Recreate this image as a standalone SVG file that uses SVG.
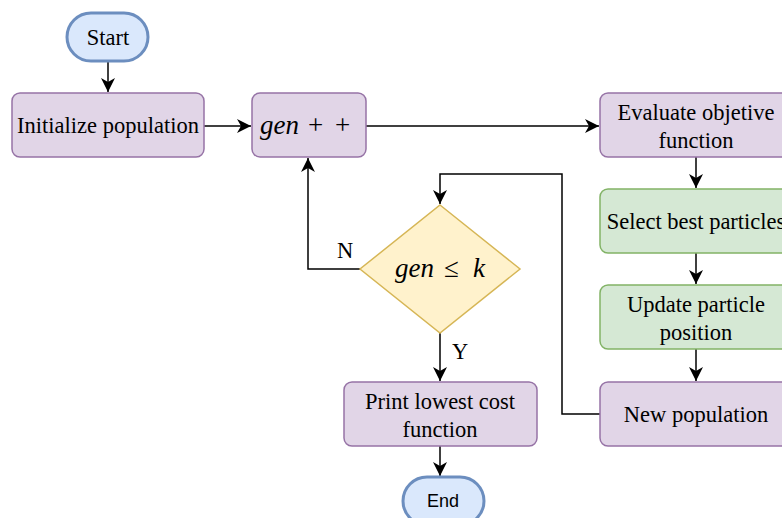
<svg xmlns="http://www.w3.org/2000/svg" width="782" height="518" viewBox="0 0 782 518">
<style>
.t{font-family:"Liberation Serif","Times New Roman",serif;font-size:22.5px;fill:#000;text-anchor:middle}
.s{font-family:"Liberation Sans",Arial,sans-serif;font-size:18px;fill:#000;text-anchor:middle}
.m{font-family:"Liberation Serif","Times New Roman",serif;font-size:27px;fill:#000}
.p{fill:#e1d5e7;stroke:#9673a6;stroke-width:1.5}
.g{fill:#d5e8d4;stroke:#82b366;stroke-width:1.5}
.b{fill:#dae8fc;stroke:#6c8ebf;stroke-width:3}
.y{fill:#fff2cc;stroke:#d6b656;stroke-width:1.5}
.c{fill:none;stroke:#000;stroke-width:1.5;marker-end:url(#a)}
</style>
<defs>
<marker id="a" markerUnits="userSpaceOnUse" viewBox="-15 -8 16 16" markerWidth="16" markerHeight="16" refX="0" refY="0" orient="auto">
<path d="M0,0 L-14,-7 L-10,0 L-14,7 Z" fill="#000"/>
</marker>
</defs>
<g id="connectors">
<path class="c" d="M108,62 L108,92"/>
<path class="c" d="M204,126 L251,126"/>
<path class="c" d="M366,126 L599,126"/>
<path class="c" d="M696,157 L696,188"/>
<path class="c" d="M696,253 L696,284"/>
<path class="c" d="M696,349 L696,381"/>
<path class="c" d="M600,414 L562,414 L562,174 L440,174 L440,204"/>
<path class="c" d="M360,269 L308,269 L308,158"/>
<path class="c" d="M440,333 L440,381"/>
<path class="c" d="M440,446 L440,476"/>
<text class="t" x="345" y="258">N</text>
<text class="t" x="460" y="359">Y</text>
</g>
<g id="start">
<rect class="b" x="67" y="13" width="81" height="48" rx="24"/>
<text class="t" x="108" y="45">Start</text>
</g>
<g id="init">
<rect class="p" x="12" y="93" width="192" height="64" rx="8"/>
<text class="t" x="108" y="133">Initialize population</text>
</g>
<g id="genpp">
<rect class="p" x="252" y="93" width="114" height="64" rx="8"/>
<text class="m" y="134"><tspan x="260" font-style="italic">gen</tspan><tspan x="308">+</tspan><tspan x="335">+</tspan></text>
</g>
<g id="evaluate">
<rect class="p" x="600" y="93" width="192" height="64" rx="8"/>
<text class="t" x="696" y="120">Evaluate objetive</text>
<text class="t" x="696" y="148">function</text>
</g>
<g id="select">
<rect class="g" x="600" y="189" width="192" height="64" rx="8"/>
<text class="t" x="696" y="229">Select best particles</text>
</g>
<g id="update">
<rect class="g" x="600" y="285" width="192" height="64" rx="8"/>
<text class="t" x="696" y="312">Update particle</text>
<text class="t" x="696" y="340">position</text>
</g>
<g id="newpop">
<rect class="p" x="600" y="382" width="192" height="64" rx="8"/>
<text class="t" x="696" y="422">New population</text>
</g>
<g id="decision">
<path class="y" d="M440,205 L520,269 L440,333 L360,269 Z"/>
<text class="m" y="277"><tspan x="395" font-style="italic">gen</tspan><tspan x="444">≤</tspan><tspan x="473" font-style="italic">k</tspan></text>
</g>
<g id="print">
<rect class="p" x="344" y="382" width="193" height="64" rx="8"/>
<text class="t" x="440" y="409">Print lowest cost</text>
<text class="t" x="440" y="437">function</text>
</g>
<g id="end">
<rect class="b" x="403" y="477" width="81" height="48" rx="24"/>
<text class="s" x="443" y="507">End</text>
</g>
</svg>
